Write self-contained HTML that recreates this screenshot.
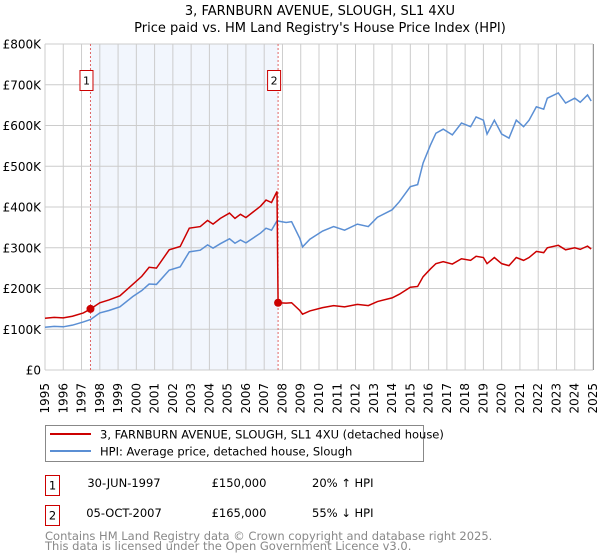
<!DOCTYPE html>
<html><head><meta charset="utf-8"><style>
body{margin:0;background:#fff;}
svg{display:block;font-family:"DejaVu Sans","Liberation Sans",sans-serif;}
</style></head><body>
<svg id="chart" width="600" height="560" xmlns="http://www.w3.org/2000/svg">
<text x="320" y="15" text-anchor="middle" font-size="13">3, FARNBURN AVENUE, SLOUGH, SL1 4XU</text>
<text x="320" y="32" text-anchor="middle" font-size="13">Price paid vs. HM Land Registry's House Price Index (HPI)</text>
<g id="plot"></g>
<g>
<rect x="45.5" y="425.5" width="378" height="36" fill="#fff" stroke="#888"/>
<line x1="50" y1="434" x2="91" y2="434" stroke="#cc0000" stroke-width="2"/>
<text x="100" y="438.5" font-size="11.5">3, FARNBURN AVENUE, SLOUGH, SL1 4XU (detached house)</text>
<line x1="50" y1="451" x2="91" y2="451" stroke="#5b8fd4" stroke-width="2"/>
<text x="100" y="455.5" font-size="11.5">HPI: Average price, detached house, Slough</text>
</g>
<g font-size="11.5">
<rect x="45.5" y="475.5" width="14" height="20" fill="#fff" stroke="#cc0000"/>
<text x="52.5" y="489.5" text-anchor="middle">1</text>
<text x="124" y="487" text-anchor="middle">30-JUN-1997</text>
<text x="239" y="487" text-anchor="middle">£150,000</text>
<text x="312" y="487">20% ↑ HPI</text>
<rect x="45.5" y="505.5" width="14" height="20" fill="#fff" stroke="#cc0000"/>
<text x="52.5" y="519.5" text-anchor="middle">2</text>
<text x="124" y="517" text-anchor="middle">05-OCT-2007</text>
<text x="239" y="517" text-anchor="middle">£165,000</text>
<text x="312" y="517">55% ↓ HPI</text>
</g>
<text x="45" y="540" font-size="11.5" fill="#888">Contains HM Land Registry data © Crown copyright and database right 2025.</text>
<text x="45" y="550" font-size="11.5" fill="#888">This data is licensed under the Open Government Licence v3.0.</text>
</svg>
<script>
const yTicks=[0,100,200,300,400,500,600,700,800];
const yTickLabels=["£0","£100K","£200K","£300K","£400K","£500K","£600K","£700K","£800K"];
const xYears=[1995,1996,1997,1998,1999,2000,2001,2002,2003,2004,2005,2006,2007,2008,2009,2010,2011,2012,2013,2014,2015,2016,2017,2018,2019,2020,2021,2022,2023,2024,2025];
const hpiYears=[1995.0,1995.5,1996.0,1996.5,1997.1,1997.5,1998.0,1998.5,1999.1,1999.8,2000.3,2000.7,2001.1,2001.8,2002.4,2002.9,2003.5,2003.9,2004.2,2004.6,2005.1,2005.4,2005.7,2006.0,2006.4,2006.8,2007.1,2007.4,2007.7,2008.2,2008.5,2008.95,2009.1,2009.5,2010.2,2010.8,2011.4,2012.1,2012.7,2013.2,2014.0,2014.4,2015.0,2015.4,2015.7,2016.1,2016.4,2016.8,2017.3,2017.8,2018.3,2018.6,2019.0,2019.2,2019.6,2020.0,2020.4,2020.8,2021.2,2021.5,2021.9,2022.3,2022.5,2023.1,2023.5,2024.0,2024.3,2024.7,2024.9];
const hpiValues=[105,107,106,110,118,124,140,146,155,180,195,211,210,245,253,290,294,307,299,310,322,311,319,312,324,336,348,343,366,362,364,323,302,321,341,352,343,358,352,375,393,413,450,455,508,552,581,591,577,606,597,621,613,579,613,579,569,613,597,613,646,640,667,680,655,667,657,675,660];
const propYears=[1995.0,1995.5,1996.0,1996.5,1997.1,1997.5,1998.0,1998.5,1999.1,1999.8,2000.3,2000.7,2001.1,2001.8,2002.4,2002.9,2003.5,2003.9,2004.2,2004.6,2005.1,2005.4,2005.7,2006.0,2006.4,2006.8,2007.1,2007.4,2007.7,2007.76,2008.2,2008.5,2008.95,2009.1,2009.5,2010.2,2010.8,2011.4,2012.1,2012.7,2013.2,2014.0,2014.4,2015.0,2015.4,2015.7,2016.1,2016.4,2016.8,2017.3,2017.8,2018.3,2018.6,2019.0,2019.2,2019.6,2020.0,2020.4,2020.8,2021.2,2021.5,2021.9,2022.3,2022.5,2023.1,2023.5,2024.0,2024.3,2024.7,2024.9];
const propValues=[127,129,128,132,140,150,165,172,182,210,230,252,250,295,303,348,352,367,358,372,385,372,382,374,388,402,417,411,438,165,164,165,146,137,145,153,158,155,161,158,168,177,186,203,205,229,248,261,266,260,273,269,279,276,261,276,261,256,276,269,276,291,288,300,306,295,300,296,304,297];
const saleYears=[1997.49,2007.76];
const saleValues=[150,165];
const saleLabels=["1","2"];

const X0=45,X1=593,Y0=370,Y1=44;
const xs=y=>X0+(y-1995)/30*(X1-X0);
const ys=v=>Y0-v/800*(Y0-Y1);
const NS="http://www.w3.org/2000/svg";
const g=document.getElementById('plot');
function mk(t,a){const e=document.createElementNS(NS,t);for(const k in a)e.setAttribute(k,a[k]);g.appendChild(e);return e;}

const shade=mk('rect',{x:xs(saleYears[0]),y:Y1,width:xs(saleYears[1])-xs(saleYears[0]),height:Y0-Y1,fill:'#f2f6fd'});


xYears.forEach(yr=>{
  const l=mk('line',{x1:xs(yr),x2:xs(yr),y1:Y1,y2:Y0,stroke:'#cccccc','stroke-width':1});
  
  
  const t=mk('text',{transform:`translate(${xs(yr)+4},383) rotate(-90)`,'text-anchor':'end','font-size':12});
  t.textContent=yr;
  
  
});
yTicks.forEach((v,i)=>{
  const l=mk('line',{x1:X0,x2:X1,y1:ys(v),y2:ys(v),stroke:'#cccccc','stroke-width':1});
  
  
  const t=mk('text',{x:41,y:ys(v)+4.5,'text-anchor':'end','font-size':12});
  t.textContent=yTickLabels[i];
  
  
});
saleYears.forEach((yr,i)=>{
  const l=mk('line',{x1:xs(yr),x2:xs(yr),y1:Y1,y2:Y0,stroke:'#e06666','stroke-width':1,'stroke-dasharray':'2,2'});
  
  
  const b=mk('rect',{x:xs(yr)-10.5,y:70.5,width:13,height:20,fill:'#fff',stroke:'#cc0000'});
  
  
  const t=mk('text',{x:xs(yr)-4,y:84.5,'text-anchor':'middle','font-size':11});
  t.textContent=saleLabels[i];
  
  
});
const hp=mk('polyline',{points:hpiYears.map((y,i)=>xs(y)+','+ys(hpiValues[i])).join(' '),fill:'none',stroke:'#5b8fd4','stroke-width':1.5});


const pp=mk('polyline',{points:propYears.map((y,i)=>xs(y)+','+ys(propValues[i])).join(' '),fill:'none',stroke:'#cc0000','stroke-width':1.5});


saleYears.forEach((yr,i)=>{
  const c=mk('circle',{cx:xs(yr),cy:ys(saleValues[i]),r:4,fill:'#cc0000'});
  
  
});
const ax=mk('line',{x1:X1+0.5,x2:X1+0.5,y1:Y1,y2:Y0,stroke:'#999','stroke-width':1});


</script>
</body></html>
